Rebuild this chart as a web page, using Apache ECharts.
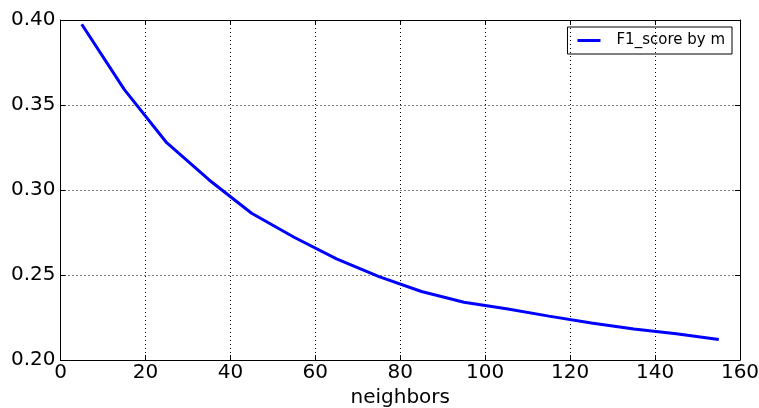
<!DOCTYPE html>
<html>
<head>
<meta charset="utf-8">
<script src="https://cdn.jsdelivr.net/npm/echarts@6/dist/echarts.min.js"></script>
<style>
  html, body { margin: 0; padding: 0; background: #fff; }
  #chart { width: 759px; height: 408px; }
</style>
</head>
<body>
<div id="chart"></div>
<script>
// neighbors (m) and the F1 score
var neighbors = [5, 15, 25, 35, 45, 55, 65, 75, 85, 95, 105, 115, 125, 135, 145, 155];
var f1Scores = [0.3975, 0.3592, 0.3278, 0.3059, 0.2863, 0.2722, 0.2595, 0.2490,
                0.2403, 0.2340, 0.2301, 0.2258, 0.2218, 0.2183, 0.2155, 0.2120];
var seriesName = 'F1_score by m';

var chart = echarts.init(document.getElementById('chart'));

var font = 'DejaVu Sans';
var gridLine = { show: true, lineStyle: { color: '#000', width: 1, type: [1, 3] } };
var frame = { show: true, onZero: false, lineStyle: { color: '#000', width: 1 } };
var tick = { show: true, inside: true, length: 5, lineStyle: { color: '#000' } };

chart.setOption({
  animation: false,
  grid: { left: 60.5, right: 19, top: 20, bottom: 48, outerBoundsMode: 'none' },
  legend: {
    right: 27, top: 27,
    data: [seriesName],
    itemWidth: 23, itemHeight: 3,
    padding: [6, 7, 6, 10],
    borderColor: '#000', borderWidth: 1, borderRadius: 0,
    icon: 'rect',
    textStyle: { fontFamily: font, fontSize: 15, color: '#000', padding: [0, 0, 0, 11] }
  },
  xAxis: [{
    type: 'value', min: 0, max: 160, interval: 20,
    name: 'neighbors', nameLocation: 'middle', nameGap: 22,
    nameTextStyle: { fontFamily: font, fontSize: 20, color: '#000' },
    axisLine: frame, axisTick: tick, splitLine: gridLine,
    axisLabel: { fontFamily: font, fontSize: 20, color: '#000', margin: 3 }
  }, {
    type: 'value', min: 0, max: 160, interval: 20, position: 'top',
    axisLine: frame, axisTick: tick, splitLine: { show: false },
    axisLabel: { show: false }
  }],
  yAxis: [{
    type: 'value', min: 0.20, max: 0.40, interval: 0.05,
    axisLine: frame, axisTick: tick, splitLine: gridLine,
    axisLabel: {
      fontFamily: font, fontSize: 20, color: '#000', margin: 5,
      formatter: function (v) { return v.toFixed(2); }
    }
  }, {
    type: 'value', min: 0.20, max: 0.40, interval: 0.05, position: 'right',
    axisLine: frame, axisTick: tick, splitLine: { show: false },
    axisLabel: { show: false }
  }],
  series: [{
    name: seriesName,
    type: 'line',
    data: neighbors.map(function (n, i) { return [n, f1Scores[i]]; }),
    showSymbol: false,
    color: '#0000ff',
    lineStyle: { color: '#0000ff', width: 3 }
  }]
});
</script>
</body>
</html>
